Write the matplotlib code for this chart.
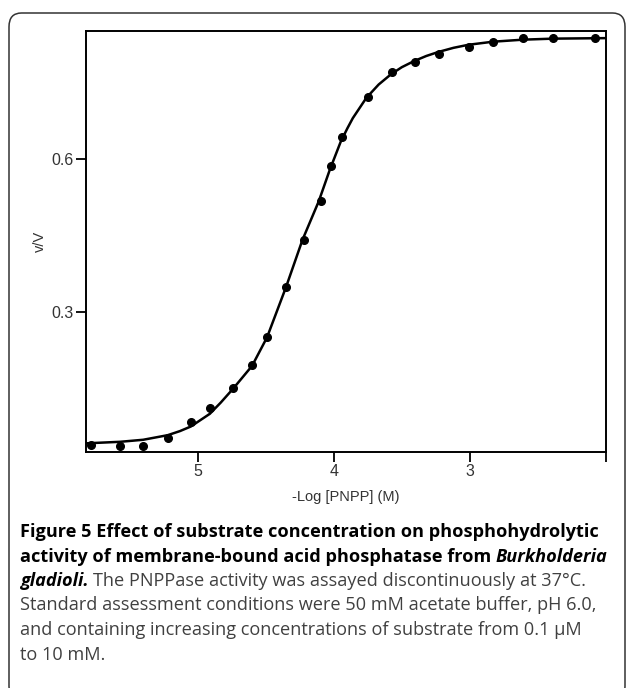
import matplotlib
matplotlib.use('Agg')
import matplotlib.pyplot as plt
from matplotlib.patches import FancyBboxPatch

# measured points: -log[PNPP] and v/V
log_pnpp = [5.78, 5.57, 5.40, 5.22, 5.05, 4.91, 4.74, 4.60, 4.49, 4.35, 4.22, 4.09,
            4.02, 3.94, 3.75, 3.57, 3.40, 3.23, 3.01, 2.83, 2.61, 2.39, 2.08]
v_ratio = [0.039, 0.037, 0.037, 0.053, 0.083, 0.111, 0.150, 0.196, 0.250, 0.348, 0.441, 0.517,
           0.586, 0.643, 0.722, 0.770, 0.790, 0.806, 0.820, 0.829, 0.837, 0.838, 0.837]

# fitted curve
fit_x = [5.82, 5.57, 5.40, 5.22, 5.13, 5.05, 4.91, 4.83, 4.74, 4.60, 4.49, 4.35, 4.23, 4.11,
         4.03, 3.95, 3.90, 3.86, 3.76, 3.67, 3.58, 3.50, 3.41, 3.32, 3.23, 3.12, 3.01,
         2.83, 2.61, 2.39, 2.01]
fit_y = [0.042, 0.045, 0.049, 0.058, 0.066, 0.075, 0.100, 0.122, 0.149, 0.194, 0.250, 0.349,
         0.441, 0.517, 0.578, 0.633, 0.660, 0.680, 0.720, 0.746, 0.766, 0.780, 0.792, 0.802,
         0.810, 0.818, 0.824, 0.830, 0.834, 0.836, 0.837]

x_ticks = [5, 4, 3, 2]
x_tick_labels = ['5', '4', '3', '']
y_ticks = [0.3, 0.6]
y_tick_labels = ['0.3', '0.6']

W, H = 627, 688
fig = plt.figure(figsize=(W / 100, H / 100), dpi=100)

def fx(px):
    return px / W

def fy(py):
    return 1 - py / H

# rounded frame around the whole figure
frame = FancyBboxPatch((fx(9), fy(700)), fx(625) - fx(9), fy(13) - fy(700),
                       boxstyle='round,pad=0,rounding_size=0.02', transform=fig.transFigure,
                       fill=False, edgecolor='#333333', linewidth=1.1)
fig.patches.append(frame)

ax = fig.add_axes([fx(86), fy(452), fx(606) - fx(86), fy(31) - fy(452)])
ax.plot(fit_x, fit_y, color='black', linewidth=1.8, solid_joinstyle='round')
ax.plot(log_pnpp, v_ratio, 'o', color='black', markersize=5.5)

ax.set_xlim(5.82, 2.0)
ax.set_ylim(0.025, 0.851)
ax.set_xticks(x_ticks)
ax.set_xticklabels(x_tick_labels)
ax.set_yticks(y_ticks)
ax.set_yticklabels(y_tick_labels)
ax.tick_params(direction='out', length=7, width=1.3, colors='black', labelcolor='#333333',
               labelsize=11.5, pad=2)
for t in ax.get_xticklabels() + ax.get_yticklabels():
    t.set_family('Liberation Sans')
for s in ax.spines.values():
    s.set_linewidth(1.4)

fig.text(fx(346), fy(497), '-Log [PNPP] (M)', ha='center', va='center',
         family='Liberation Sans', fontsize=10.5, color='#333333')
fig.text(fx(40), fy(241), 'v/V', ha='center', va='center', rotation=90,
         family='Liberation Sans', fontsize=10.5, color='#333333')

# caption, built from runs of different styles
cap_size = 13.1
runs = [
    [('Figure 5 Effect of substrate concentration on phosphohydrolytic', 'bold', 'normal', 'black')],
    [('activity of membrane-bound acid phosphatase from ', 'bold', 'normal', 'black'),
     ('Burkholderia', 'bold', 'italic', 'black')],
    [('gladioli.', 'bold', 'italic', 'black'),
     (' The PNPPase activity was assayed discontinuously at 37°C.', 'normal', 'normal', '#404040')],
    [('Standard assessment conditions were 50 mM acetate buffer, pH 6.0,', 'normal', 'normal', '#404040')],
    [('and containing increasing concentrations of substrate from 0.1 µM', 'normal', 'normal', '#404040')],
    [('to 10 mM.', 'normal', 'normal', '#404040')],
]
baselines = [537, 561.5, 586, 610.5, 635, 659.5]

renderer = fig.canvas.get_renderer()
for line, base in zip(runs, baselines):
    x = 20
    for text, weight, style, color in line:
        lead = len(text) - len(text.lstrip(' '))
        if lead:
            x += 4.6 * lead
        t = fig.text(fx(x), fy(base), text.lstrip(' '), ha='left', va='baseline',
                     family='Open Sans', fontsize=cap_size, fontweight=weight,
                     fontstyle=style, color=color)
        bb = t.get_window_extent(renderer)
        x = bb.x1

fig.savefig('out.png', dpi=100)
